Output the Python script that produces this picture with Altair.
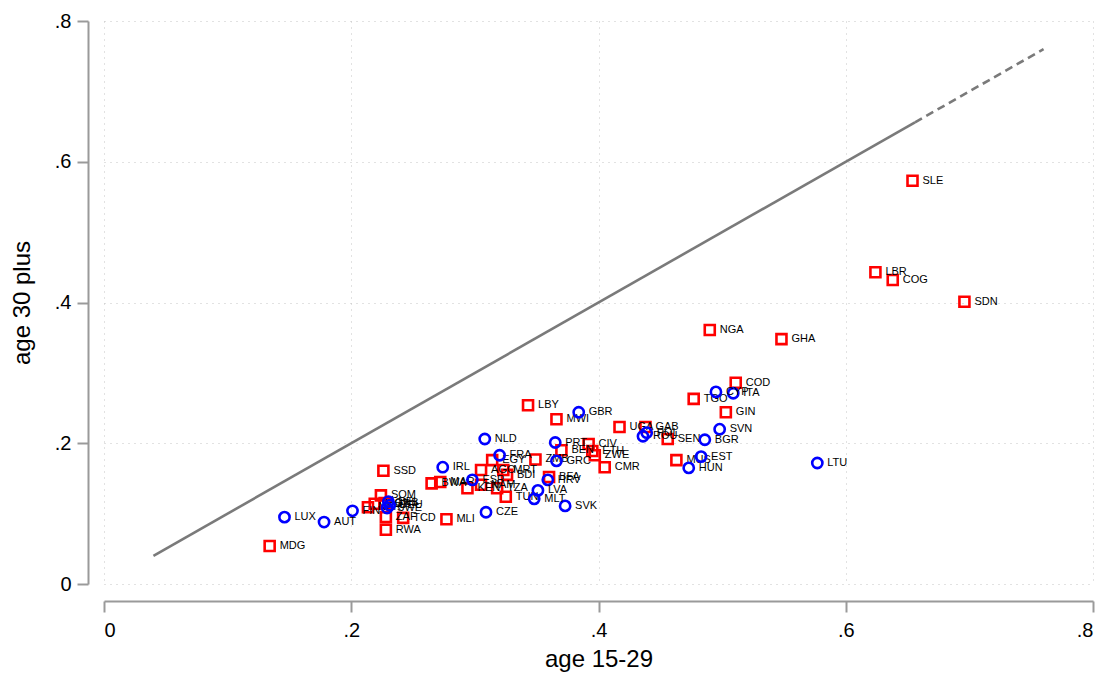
import altair as alt
import pandas as pd

# Red squares (group 1)
red_codes = ["MDG", "SSD", "SOM", "NER", "MOZ", "GNB", "ZAF", "TCD", "RWA", "MLI",
             "BWA", "MAR", "KEN", "NAM", "TZA", "TUN", "AGO", "EGY", "MRT", "BDI",
             "ZMB", "BFA", "BEN", "CIV", "ETH", "ZWE", "CMR", "LBY", "MWI", "UGA",
             "GAB", "SEN", "MUS", "TGO", "GIN", "COD", "NGA", "GHA", "LBR", "COG",
             "SDN", "SLE"]
red_x = [0.134, 0.226, 0.224, 0.2135, 0.219, 0.227, 0.228, 0.242, 0.228, 0.277,
         0.265, 0.272, 0.294, 0.305, 0.318, 0.325, 0.305, 0.314, 0.323, 0.326,
         0.349, 0.360, 0.370, 0.392, 0.395, 0.397, 0.405, 0.343, 0.366, 0.417,
         0.438, 0.456, 0.463, 0.477, 0.503, 0.511, 0.490, 0.548, 0.624, 0.638,
         0.696, 0.654]
red_y = [0.054, 0.161, 0.126, 0.109, 0.114, 0.115, 0.095, 0.094, 0.077, 0.092,
         0.143, 0.145, 0.136, 0.141, 0.136, 0.124, 0.162, 0.176, 0.162, 0.155,
         0.177, 0.152, 0.190, 0.199, 0.189, 0.183, 0.166, 0.254, 0.234, 0.223,
         0.223, 0.206, 0.176, 0.263, 0.244, 0.286, 0.361, 0.348, 0.443, 0.432,
         0.401, 0.573]

# Blue circles (group 2)
blue_codes = ["LUX", "AUT", "FIN", "BEL", "DEU", "SWE", "IRL", "ESP", "NLD", "FRA",
              "CZE", "LVA", "MLT", "HRV", "SVK", "PRT", "GRC", "GBR", "ROU", "POL",
              "CYP", "ITA", "BGR", "SVN", "EST", "HUN", "LTU"]
blue_x = [0.146, 0.178, 0.201, 0.230, 0.231, 0.229, 0.274, 0.298, 0.308, 0.320,
          0.309, 0.351, 0.348, 0.359, 0.373, 0.365, 0.366, 0.384, 0.436, 0.439,
          0.495, 0.509, 0.486, 0.498, 0.483, 0.473, 0.577]
blue_y = [0.095, 0.088, 0.104, 0.117, 0.112, 0.108, 0.166, 0.148, 0.206, 0.183,
          0.102, 0.133, 0.121, 0.148, 0.111, 0.201, 0.175, 0.244, 0.210, 0.215,
          0.273, 0.271, 0.205, 0.220, 0.181, 0.165, 0.172]

# 45-degree reference line: solid part and dashed extension
solid_x = [0.04, 0.656]
dashed_x = [0.656, 0.76]

ticks = [0, 0.2, 0.4, 0.6, 0.8]

red = pd.DataFrame({"code": red_codes, "x": red_x, "y": red_y})
blue = pd.DataFrame({"code": blue_codes, "x": blue_x, "y": blue_y})
solid = pd.DataFrame({"x": solid_x, "y": solid_x})
dashed = pd.DataFrame({"x": dashed_x, "y": dashed_x})

FONT = "Liberation Sans"
label_expr = "datum.value == 0 ? '0' : '.' + format(datum.value * 10, 'd')"
AX = "#9a9a9a"

xscale = alt.Scale(domain=[0, 0.8], nice=False, zero=False)
yscale = alt.Scale(domain=[0, 0.8], nice=False, zero=False)

xaxis = alt.Axis(values=ticks, labelExpr=label_expr, title="age 15-29", offset=17,
                 domainColor=AX, domainWidth=2, tickColor=AX, tickWidth=2, tickSize=11,
                 labelFont=FONT, labelFontSize=20, labelColor="black", labelPadding=8,
                 titleFont=FONT, titleFontSize=24, titleFontWeight="normal",
                 titleColor="black", titlePadding=7,
                 grid=True, gridColor="#c4c4c4", gridDash=[1, 5], gridWidth=1)
yaxis = alt.Axis(values=ticks, labelExpr=label_expr, title="age 30 plus", offset=16,
                 domainColor=AX, domainWidth=2, tickColor=AX, tickWidth=2, tickSize=11,
                 labelFont=FONT, labelFontSize=20, labelColor="black", labelPadding=6,
                 titleFont=FONT, titleFontSize=24, titleFontWeight="normal",
                 titleColor="black", titlePadding=20,
                 grid=True, gridColor="#c4c4c4", gridDash=[1, 5], gridWidth=1)

base_x = alt.X("x:Q", scale=xscale, axis=xaxis)
base_y = alt.Y("y:Q", scale=yscale, axis=yaxis)

line_solid = alt.Chart(solid).mark_line(color="#7a7a7a", strokeWidth=2.6).encode(
    x=base_x, y=base_y)
line_dashed = alt.Chart(dashed).mark_line(color="#7a7a7a", strokeWidth=2.6,
                                          strokeDash=[8, 5]).encode(
    x=alt.X("x:Q", scale=xscale), y=alt.Y("y:Q", scale=yscale))

red_pts = alt.Chart(red).mark_point(shape="square", filled=False, color="#ff0000",
                                    strokeWidth=2.6, size=100, opacity=1).encode(
    x=alt.X("x:Q", scale=xscale), y=alt.Y("y:Q", scale=yscale))
red_lab = alt.Chart(red).mark_text(align="left", baseline="middle", dx=10,
                                   font=FONT, fontSize=11, color="black").encode(
    x=alt.X("x:Q", scale=xscale), y=alt.Y("y:Q", scale=yscale), text="code:N")

blue_pts = alt.Chart(blue).mark_point(shape="circle", filled=False, color="#0000ff",
                                      strokeWidth=2.6, size=105, opacity=1).encode(
    x=alt.X("x:Q", scale=xscale), y=alt.Y("y:Q", scale=yscale))
blue_lab = alt.Chart(blue).mark_text(align="left", baseline="middle", dx=10,
                                     font=FONT, fontSize=11, color="black").encode(
    x=alt.X("x:Q", scale=xscale), y=alt.Y("y:Q", scale=yscale), text="code:N")

chart = alt.layer(line_solid, line_dashed, red_pts, red_lab, blue_pts, blue_lab).properties(
    width=989, height=563,
    autosize=alt.AutoSizeParams(type="none"),
    padding={"left": 96, "top": 13, "right": 2, "bottom": 88},
    background="white",
).configure_view(stroke=None)

chart.save("out.html", embed_options={"renderer": "svg", "actions": False})
